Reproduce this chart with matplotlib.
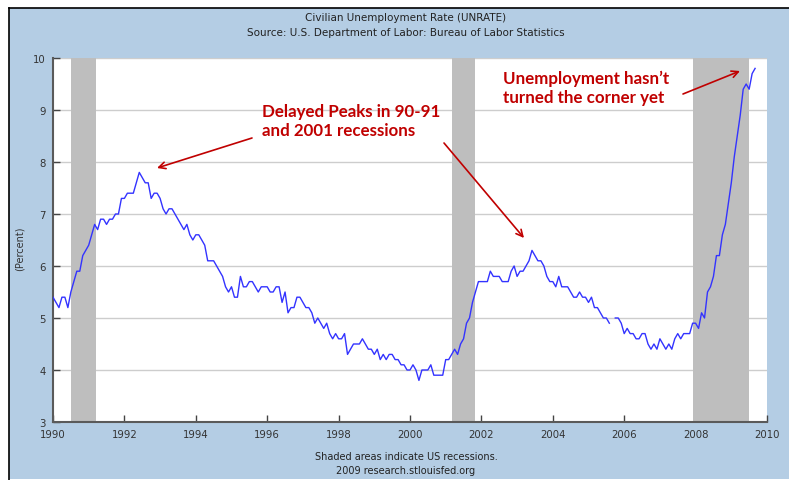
import numpy as np
import matplotlib.pyplot as plt
from matplotlib.patches import Rectangle
from matplotlib.lines import Line2D

# 月度失业率 (UNRATE), 1990-01 ~ 2009-09
rate_1990 = [5.4, 5.3, 5.2, 5.4, 5.4, 5.2, 5.5, 5.7, 5.9, 5.9, 6.2, 6.3]
rate_1991 = [6.4, 6.6, 6.8, 6.7, 6.9, 6.9, 6.8, 6.9, 6.9, 7.0, 7.0, 7.3]
rate_1992 = [7.3, 7.4, 7.4, 7.4, 7.6, 7.8, 7.7, 7.6, 7.6, 7.3, 7.4, 7.4]
rate_1993 = [7.3, 7.1, 7.0, 7.1, 7.1, 7.0, 6.9, 6.8, 6.7, 6.8, 6.6, 6.5]
rate_1994 = [6.6, 6.6, 6.5, 6.4, 6.1, 6.1, 6.1, 6.0, 5.9, 5.8, 5.6, 5.5]
rate_1995 = [5.6, 5.4, 5.4, 5.8, 5.6, 5.6, 5.7, 5.7, 5.6, 5.5, 5.6, 5.6]
rate_1996 = [5.6, 5.5, 5.5, 5.6, 5.6, 5.3, 5.5, 5.1, 5.2, 5.2, 5.4, 5.4]
rate_1997 = [5.3, 5.2, 5.2, 5.1, 4.9, 5.0, 4.9, 4.8, 4.9, 4.7, 4.6, 4.7]
rate_1998 = [4.6, 4.6, 4.7, 4.3, 4.4, 4.5, 4.5, 4.5, 4.6, 4.5, 4.4, 4.4]
rate_1999 = [4.3, 4.4, 4.2, 4.3, 4.2, 4.3, 4.3, 4.2, 4.2, 4.1, 4.1, 4.0]
rate_2000 = [4.0, 4.1, 4.0, 3.8, 4.0, 4.0, 4.0, 4.1, 3.9, 3.9, 3.9, 3.9]
rate_2001 = [4.2, 4.2, 4.3, 4.4, 4.3, 4.5, 4.6, 4.9, 5.0, 5.3, 5.5, 5.7]
rate_2002 = [5.7, 5.7, 5.7, 5.9, 5.8, 5.8, 5.8, 5.7, 5.7, 5.7, 5.9, 6.0]
rate_2003 = [5.8, 5.9, 5.9, 6.0, 6.1, 6.3, 6.2, 6.1, 6.1, 6.0, 5.8, 5.7]
rate_2004 = [5.7, 5.6, 5.8, 5.6, 5.6, 5.6, 5.5, 5.4, 5.4, 5.5, 5.4, 5.4]
rate_2005 = [5.3, 5.4, 5.2, 5.2, 5.1, 5.0, 5.0, 4.9, np.nan, 5.0, 5.0, 4.9]
rate_2006 = [4.7, 4.8, 4.7, 4.7, 4.6, 4.6, 4.7, 4.7, 4.5, 4.4, 4.5, 4.4]
rate_2007 = [4.6, 4.5, 4.4, 4.5, 4.4, 4.6, 4.7, 4.6, 4.7, 4.7, 4.7, 4.9]
rate_2008 = [4.9, 4.8, 5.1, 5.0, 5.5, 5.6, 5.8, 6.2, 6.2, 6.6, 6.8, 7.2]
rate_2009 = [7.6, 8.1, 8.5, 8.9, 9.4, 9.5, 9.4, 9.7, 9.8]

# 衰退区间 (年份小数)
rec_start = [1990.5, 2001.17, 2007.92]
rec_end = [1991.2, 2001.83, 2009.5]

x_ticks = [1990, 1992, 1994, 1996, 1998, 2000, 2002, 2004, 2006, 2008, 2010]
y_ticks = [3, 4, 5, 6, 7, 8, 9, 10]

rate = np.array(rate_1990 + rate_1991 + rate_1992 + rate_1993 + rate_1994 +
                rate_1995 + rate_1996 + rate_1997 + rate_1998 + rate_1999 +
                rate_2000 + rate_2001 + rate_2002 + rate_2003 + rate_2004 +
                rate_2005 + rate_2006 + rate_2007 + rate_2008 + rate_2009)
t = 1990 + np.arange(len(rate)) / 12.0

W, H = 789, 481
bg = '#B4CDE4'
red = '#C00000'
narrow = ['Liberation Sans Narrow', 'DejaVu Sans']

fig = plt.figure(figsize=(W / 100, H / 100), dpi=100, facecolor='white')
# 蓝色底板 + 黑色左/上边框
fig.patches.append(Rectangle((9 / W, 1 / H), 1, (H - 10) / H, transform=fig.transFigure,
                             facecolor=bg, edgecolor='none', zorder=-10))
fig.lines.append(Line2D([8.5 / W, 8.5 / W], [0, (H - 8.5) / H], transform=fig.transFigure, color='black', lw=1.2))
fig.lines.append(Line2D([8.5 / W, 1], [(H - 8.5) / H, (H - 8.5) / H], transform=fig.transFigure, color='black', lw=1.2))

ax = fig.add_axes([53 / W, (H - 423) / H, (767 - 53) / W, (423 - 59) / H])
ax.set_facecolor('white')
ax.set_xlim(1990, 2010)
ax.set_ylim(3, 10)

for s, e in zip(rec_start, rec_end):
    ax.axvspan(s, e, color='#BEBEBE', lw=0, zorder=1)

ax.set_yticks(y_ticks)
ax.set_xticks(x_ticks)
ax.grid(axis='y', color='#CDCDCD', lw=1, zorder=0)
ax.set_axisbelow(True)
ax.plot(t, rate, color='#3333FF', lw=1, zorder=3)

for side in ['top', 'right']:
    ax.spines[side].set_visible(False)
for side in ['left', 'bottom']:
    ax.spines[side].set_color('#5A5A5A')
    ax.spines[side].set_linewidth(1.5)
ax.tick_params(direction='in', length=5, width=1, color='#444444', labelcolor='#333333', labelsize=7.3)
ax.tick_params(axis='y', pad=5)
ax.tick_params(axis='x', pad=5)

# 标题和注脚
fig.text(406 / W, 1 - 18 / H, 'Civilian Unemployment Rate (UNRATE)', ha='center', va='center',
         fontsize=7.5, color='#222222', family=narrow)
fig.text(406 / W, 1 - 33 / H, 'Source: U.S. Department of Labor: Bureau of Labor Statistics', ha='center', va='center',
         fontsize=7.5, color='#222222', family=narrow)
fig.text(406 / W, 1 - 457 / H, 'Shaded areas indicate US recessions.', ha='center', va='center',
         fontsize=7, color='#222222')
fig.text(406 / W, 1 - 471 / H, '2009 research.stlouisfed.org', ha='center', va='center',
         fontsize=7, color='#222222')
fig.text(20 / W, 1 - 249 / H, '(Percent)', rotation=90, ha='center', va='center', fontsize=7, color='#333333')

# 红色注释
def px(x, y):
    return (x / W, 1 - y / H)

fig.text(262 / W, 1 - 136 / H, 'Delayed Peaks in 90-91\nand 2001 recessions', ha='left', va='baseline',
         fontsize=12.2, fontweight='bold', color=red, family='Lato', linespacing=1.25)
fig.text(503 / W, 1 - 103 / H, 'Unemployment hasn\u2019t\nturned the corner yet', ha='left', va='baseline',
         fontsize=12.2, fontweight='bold', color=red, family='Lato', linespacing=1.25)

arrows = [((252, 139), (157, 169)), ((444, 144), (524, 239)), ((683, 95), (740, 72))]
for tail, head in arrows:
    ax.annotate('', xy=px(*head), xycoords='figure fraction', xytext=px(*tail), textcoords='figure fraction',
                arrowprops=dict(arrowstyle='->', color=red, lw=1.2, mutation_scale=12, shrinkA=0, shrinkB=0))

plt.savefig('out.png', dpi=100, facecolor='white')
